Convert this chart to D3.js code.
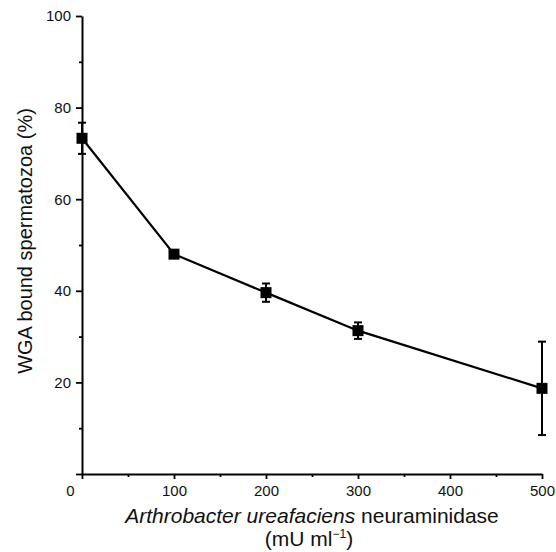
<!DOCTYPE html>
<html>
<head>
<meta charset="utf-8">
<script src="https://cdn.jsdelivr.net/npm/d3@7"></script>
<style>
  html, body { margin: 0; padding: 0; background: #fff; }
  svg { display: block; font-family: "Liberation Sans", Arial, sans-serif; }
</style>
</head>
<body>
<svg id="chart" width="556" height="552"></svg>
<script>
// Data
const doses = [0, 100, 200, 300, 500];            // mU ml^-1
const bound = [73.3, 48.0, 39.6, 31.3, 18.7];     // % WGA bound spermatozoa
const errs  = [3.4, 0.5, 2.0, 1.8, 10.2];         // error bar half-length
const xMajorTicks = [0, 100, 200, 300, 400, 500];
const xMinorTicks = [50, 150, 250, 350, 450];
const yMajorTicks = [0, 20, 40, 60, 80, 100];
const yMinorTicks = [10, 30, 50, 70, 90];
const xTitleItalic = "Arthrobacter ureafaciens";
const xTitleRest = " neuraminidase";
const yTitle = "WGA bound spermatozoa (%)";

const svg = d3.select("#chart");
const margin = { left: 82, right: 14, top: 16, bottom: 78 };
const W = 556, H = 552;
const x = d3.scaleLinear().domain([0, 500]).range([margin.left, W - margin.right]);
const y = d3.scaleLinear().domain([0, 100]).range([H - margin.bottom, margin.top]);

const data = doses.map((d, i) => ({ x: d, y: bound[i], e: errs[i] }));

// Axes
const gx = svg.append("g").attr("transform", `translate(0,${y(0)})`);
gx.call(d3.axisBottom(x).tickValues(xMajorTicks).tickSize(5).tickSizeOuter(0).tickPadding(6).tickFormat(d3.format("d")));
const gxMinor = svg.append("g").attr("transform", `translate(0,${y(0)})`);
gxMinor.call(d3.axisBottom(x).tickValues(xMinorTicks).tickSize(3).tickSizeOuter(0).tickFormat(""));
gxMinor.select(".domain").remove();

const gy = svg.append("g").attr("transform", `translate(${x(0)},0)`);
gy.call(d3.axisLeft(y).tickValues(yMajorTicks).tickSize(6).tickSizeOuter(0).tickPadding(5).tickFormat(d => d === 0 ? "" : d3.format("d")(d)));
const gyMinor = svg.append("g").attr("transform", `translate(${x(0)},0)`);
gyMinor.call(d3.axisLeft(y).tickValues(yMinorTicks).tickSize(3).tickSizeOuter(0).tickFormat(""));
gyMinor.select(".domain").remove();

svg.selectAll(".domain").attr("stroke", "#000").attr("stroke-width", 2);
svg.selectAll(".tick line").attr("stroke", "#000").attr("stroke-width", 1.8);
svg.selectAll(".tick text").attr("fill", "#111").style("font-size", "15px").style("font-family", "'Liberation Sans', Arial, sans-serif");
// the "0" label of the x axis sits left of the origin in the reference
gx.selectAll(".tick text").filter(d => d === 0).attr("dx", "-12px");

// Line
svg.append("path")
  .datum(data)
  .attr("fill", "none")
  .attr("stroke", "#000")
  .attr("stroke-width", 2.2)
  .attr("d", d3.line().x(d => x(d.x)).y(d => y(d.y)));

// Error bars
const eb = svg.append("g").selectAll("g").data(data).join("g");
eb.append("line")
  .attr("x1", d => x(d.x)).attr("x2", d => x(d.x))
  .attr("y1", d => y(d.y + d.e)).attr("y2", d => y(d.y - d.e))
  .attr("stroke", "#000").attr("stroke-width", 2);
eb.append("line")
  .attr("x1", d => x(d.x) - 4).attr("x2", d => x(d.x) + 4)
  .attr("y1", d => y(d.y + d.e)).attr("y2", d => y(d.y + d.e))
  .attr("stroke", "#000").attr("stroke-width", 2);
eb.append("line")
  .attr("x1", d => x(d.x) - 4).attr("x2", d => x(d.x) + 4)
  .attr("y1", d => y(d.y - d.e)).attr("y2", d => y(d.y - d.e))
  .attr("stroke", "#000").attr("stroke-width", 2);

// Square markers
const ms = 11;
svg.append("g").selectAll("rect").data(data).join("rect")
  .attr("x", d => x(d.x) - ms / 2)
  .attr("y", d => y(d.y) - ms / 2)
  .attr("width", ms).attr("height", ms)
  .attr("fill", "#000");

// X title
const xt = svg.append("text")
  .attr("x", 312).attr("y", 523)
  .attr("text-anchor", "middle")
  .attr("fill", "#111")
  .style("font-size", "21px");
xt.append("tspan").attr("font-style", "italic").text(xTitleItalic);
xt.append("tspan").text(xTitleRest);

const xt2 = svg.append("text")
  .attr("x", 309).attr("y", 546)
  .attr("text-anchor", "middle")
  .attr("fill", "#111")
  .style("font-size", "21px");
xt2.append("tspan").text("(mU ml");
xt2.append("tspan").attr("dy", "-8").style("font-size", "12px").text("\u22121");
xt2.append("tspan").attr("dy", "8").text(")");

// Y title
svg.append("text")
  .attr("transform", `translate(32,${241}) rotate(-90)`)
  .attr("text-anchor", "middle")
  .attr("fill", "#111")
  .style("font-size", "20px")
  .text(yTitle);
</script>
</body>
</html>
